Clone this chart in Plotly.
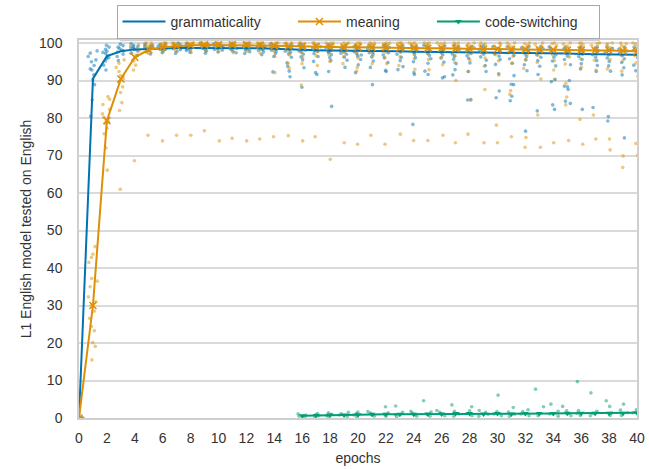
import plotly.graph_objects as go

# ---------------- data ----------------
epochs = list(range(0, 41))
gram_mean = [0, 90.5, 96.5, 97.8, 98.3, 98.5, 98.6, 98.7, 98.7, 98.7, 98.7, 98.7, 98.6, 98.6, 98.5,
             98.3, 98.2, 98.1, 98.0, 98.0, 97.9, 97.9, 97.8, 97.8, 97.7, 97.7, 97.6, 97.6, 97.5, 97.5,
             97.4, 97.4, 97.3, 97.3, 97.2, 97.2, 97.1, 97.1, 97.0, 97.0, 96.9]
meaning_mean = [0, 30.0, 79.3, 90.4, 96.2, 98.2, 98.9, 99.2, 99.4, 99.5, 99.5, 99.5, 99.5, 99.4, 99.3,
                99.2, 99.1, 99.0, 99.0, 98.9, 98.9, 98.8, 98.8, 98.7, 98.7, 98.6, 98.6, 98.5, 98.5, 98.4,
                98.4, 98.3, 98.3, 98.2, 98.2, 98.1, 98.1, 98.0, 98.0, 97.9, 97.8]
cs_epochs = list(range(16, 41))
cs_mean = [0.6, 0.7, 0.8, 0.8, 0.9, 1.0, 1.0, 1.0, 1.0, 1.1, 1.1, 1.2, 1.2, 1.1, 1.2, 1.1, 1.2,
           1.2, 1.2, 1.3, 1.3, 1.3, 1.3, 1.3, 1.4]

gram_runs = [
    [0, 0, 0],
    [80.5, 84.8, 88.9, 90.2, 91.5, 92.8, 94.0, 95.5, 96.4, 97.3, 97.9, 93.1, 95.0],
    [92.8, 94.1, 95.2, 95.9, 96.6, 97.2, 97.8, 98.3, 98.9, 99.4, 96.1, 97.5],
    [95.3, 96.4, 97.0, 97.6, 98.1, 98.5, 98.9, 99.3, 99.7, 97.9],
    [96.6, 97.3, 97.9, 98.3, 98.7, 99.0, 99.4, 99.8, 98.5, 99.1],
    [97.1, 97.7, 98.1, 98.5, 98.8, 99.1, 99.4, 99.7, 98.6, 99.2],
    [97.4, 97.9, 98.3, 98.6, 98.9, 99.2, 99.5, 99.8, 98.4, 99.0],
    [97.2, 97.8, 98.2, 98.7, 99.0, 99.3, 99.6, 99.9, 98.5, 98.9],
    [97.5, 98.0, 98.4, 98.7, 99.0, 99.3, 99.5, 99.8, 98.2, 99.1],
    [97.3, 97.9, 98.3, 98.8, 99.1, 99.4, 99.7, 99.9, 98.6, 99.0],
    [97.6, 98.1, 98.5, 98.8, 99.0, 99.3, 99.6, 99.8, 98.3, 99.2],
    [97.4, 97.8, 98.2, 98.6, 99.0, 99.2, 99.5, 99.9, 98.7, 99.1],
    [97.2, 97.7, 98.1, 98.5, 98.9, 99.2, 99.5, 99.8, 98.4, 98.8],
    [96.9, 97.6, 98.0, 98.4, 98.8, 99.1, 99.4, 99.7, 98.2, 99.0],
    [92.3, 96.4, 97.2, 97.8, 98.3, 98.7, 99.0, 99.4, 99.7, 98.1, 98.9],
    [91.0, 92.5, 93.8, 94.7, 96.2, 97.1, 97.8, 98.3, 98.7, 99.1, 99.5, 97.5],
    [88.2, 93.4, 95.5, 96.3, 97.0, 97.6, 98.1, 98.5, 98.9, 99.3, 99.6, 97.9],
    [91.6, 92.1, 95.1, 96.4, 97.2, 97.8, 98.2, 98.7, 99.0, 99.4, 98.0],
    [83.1, 92.4, 95.3, 96.1, 96.9, 97.5, 98.0, 98.4, 98.8, 99.2, 99.6, 97.7],
    [93.5, 95.4, 96.2, 97.0, 97.6, 98.1, 98.5, 98.9, 99.3, 97.3],
    [92.1, 94.2, 95.6, 96.5, 97.1, 97.7, 98.2, 98.6, 99.0, 99.4, 96.8],
    [88.9, 93.5, 95.2, 96.3, 97.0, 97.6, 98.1, 98.5, 98.9, 99.3, 97.4],
    [92.7, 92.4, 94.8, 96.0, 96.8, 97.4, 97.9, 98.4, 98.8, 99.2, 99.5],
    [92.9, 93.7, 95.3, 96.2, 97.0, 97.6, 98.1, 98.5, 98.9, 99.3],
    [78.3, 91.6, 92.1, 95.0, 96.1, 96.9, 97.5, 98.0, 98.4, 98.8, 99.2],
    [91.6, 92.5, 94.6, 95.8, 96.7, 97.3, 97.8, 98.3, 98.7, 99.1, 99.4],
    [90.7, 91.0, 94.9, 96.0, 96.8, 97.4, 97.9, 98.3, 98.8, 99.2],
    [91.5, 92.9, 94.5, 95.7, 96.5, 97.1, 97.7, 98.2, 98.6, 99.0, 99.4],
    [84.8, 84.9, 92.4, 94.7, 95.9, 96.6, 97.2, 97.8, 98.3, 98.7, 99.1],
    [92.4, 94.0, 95.4, 96.3, 97.0, 97.5, 98.0, 98.5, 98.9, 99.3],
    [85.4, 87.2, 91.8, 94.3, 95.6, 96.5, 97.1, 97.7, 98.2, 98.6, 99.0],
    [84.6, 85.8, 88.9, 89.0, 91.3, 94.6, 95.8, 96.7, 97.4, 98.0, 98.5, 99.0],
    [76.5, 92.6, 94.2, 95.5, 96.4, 97.1, 97.7, 98.2, 98.7, 99.1],
    [81.9, 91.6, 93.8, 95.3, 96.2, 96.9, 97.5, 98.1, 98.6, 99.0],
    [82.3, 83.5, 89.7, 90.3, 93.9, 95.2, 96.2, 96.9, 97.5, 98.1, 98.6, 99.0],
    [83.9, 84.5, 87.6, 88.3, 88.5, 90.0, 94.2, 95.6, 96.5, 97.2, 97.8, 98.4, 98.9],
    [82.3, 93.1, 94.5, 95.6, 96.4, 97.0, 97.6, 98.1, 98.6, 99.0],
    [82.8, 92.4, 94.0, 95.3, 96.2, 96.9, 97.5, 98.0, 98.5, 99.0],
    [79.2, 80.4, 92.5, 93.9, 95.1, 96.0, 96.8, 97.4, 98.0, 98.5, 98.9],
    [74.7, 91.5, 93.4, 94.8, 95.8, 96.6, 97.3, 97.9, 98.4, 98.9],
    [92.6, 94.1, 95.2, 96.1, 96.8, 97.4, 98.0, 98.5, 98.9],
]

meaning_runs = [
    [0, 0, 0, 0],
    [15.5, 19.1, 20.1, 23.3, 24.4, 26.6, 28.5, 30.0, 31.0, 32.3, 35.0, 36.5, 37.2, 41.5, 42.8, 43.7, 45.7],
    [66.1, 72.0, 75.8, 77.3, 78.5, 79.4, 80.2, 81.1, 82.3, 83.6, 85.0, 85.7, 79.0],
    [61.0, 82.0, 84.1, 86.8, 88.3, 89.6, 90.5, 91.3, 92.4, 93.5, 94.6, 95.5],
    [68.6, 92.8, 94.1, 95.2, 96.0, 96.7, 97.3, 97.9, 98.6, 99.2, 99.6],
    [75.4, 97.2, 98.1, 98.7, 99.1, 99.5, 99.8, 100, 100, 99.3, 98.5],
    [73.9, 97.6, 98.4, 98.9, 99.3, 99.6, 99.8, 100, 100, 99.4],
    [75.4, 97.8, 98.6, 99.0, 99.4, 99.7, 99.9, 100, 100, 99.2],
    [75.4, 97.5, 98.3, 98.9, 99.3, 99.6, 99.9, 100, 100, 99.5],
    [76.6, 97.9, 98.7, 99.1, 99.5, 99.8, 100, 100, 99.4, 99.0],
    [73.9, 97.7, 98.5, 99.0, 99.4, 99.7, 99.9, 100, 100, 99.2],
    [74.6, 97.4, 98.3, 98.9, 99.3, 99.6, 99.8, 100, 100, 99.5],
    [73.9, 97.8, 98.6, 99.1, 99.5, 99.7, 99.9, 100, 100, 99.3],
    [74.4, 97.3, 98.4, 98.9, 99.3, 99.6, 99.9, 100, 100, 99.0],
    [75.0, 92.1, 96.5, 97.8, 98.6, 99.1, 99.5, 99.8, 100, 100, 99.3],
    [75.3, 93.3, 94.6, 96.8, 97.9, 98.6, 99.1, 99.5, 99.8, 100, 100],
    [73.9, 88.8, 94.5, 96.2, 97.5, 98.3, 98.9, 99.4, 99.8, 100, 100],
    [75.0, 94.0, 96.6, 97.7, 98.5, 99.0, 99.5, 99.8, 100, 100],
    [69.0, 95.1, 96.9, 97.9, 98.6, 99.1, 99.5, 99.9, 100, 100],
    [73.4, 94.5, 96.4, 97.6, 98.4, 99.0, 99.4, 99.8, 100, 100],
    [73.0, 92.5, 93.5, 96.0, 97.3, 98.2, 98.8, 99.3, 99.7, 100, 100],
    [75.4, 94.5, 96.5, 97.7, 98.5, 99.1, 99.5, 99.8, 100, 100],
    [73.0, 94.5, 96.2, 97.5, 98.4, 99.0, 99.5, 99.8, 100, 100],
    [75.7, 94.0, 96.3, 97.6, 98.5, 99.1, 99.5, 99.9, 100, 100],
    [74.0, 93.0, 95.8, 97.3, 98.2, 98.9, 99.4, 99.8, 100, 100],
    [74.0, 92.9, 95.6, 97.2, 98.2, 98.9, 99.4, 99.8, 100, 100],
    [75.4, 94.2, 96.1, 97.4, 98.3, 98.9, 99.4, 99.8, 100, 100],
    [73.4, 90.0, 94.8, 96.6, 97.8, 98.6, 99.2, 99.6, 100, 100],
    [75.7, 84.8, 92.4, 95.5, 97.1, 98.1, 98.8, 99.4, 99.8, 100],
    [73.4, 87.6, 93.8, 96.0, 97.4, 98.3, 98.9, 99.4, 99.8, 100],
    [73.4, 78.1, 91.5, 95.2, 96.9, 97.9, 98.6, 99.2, 99.7, 100],
    [75.0, 86.3, 87.3, 94.6, 96.5, 97.6, 98.4, 99.0, 99.5, 100, 100],
    [72.2, 74.8, 93.2, 95.6, 97.0, 98.0, 98.7, 99.3, 99.8, 100],
    [72.2, 80.8, 90.4, 94.8, 96.7, 97.8, 98.6, 99.2, 99.7, 100],
    [73.4, 90.2, 92.8, 95.3, 96.9, 97.9, 98.7, 99.3, 99.8, 100],
    [74.0, 83.5, 85.6, 89.3, 94.4, 96.3, 97.6, 98.5, 99.2, 99.7, 100],
    [73.0, 79.6, 93.5, 95.8, 97.2, 98.2, 98.9, 99.5, 99.9, 100],
    [74.4, 80.8, 92.8, 95.4, 97.0, 98.0, 98.8, 99.4, 99.8, 100],
    [71.5, 74.4, 93.1, 95.6, 97.1, 98.1, 98.8, 99.4, 99.8, 100],
    [66.8, 69.9, 92.5, 95.2, 96.8, 97.9, 98.7, 99.3, 99.8, 100],
    [70.1, 73.2, 91.1, 94.7, 96.6, 97.7, 98.5, 99.2, 99.7, 100],
]

cs_runs = [
    [0.2, 0.5, 0.8, 1.1], [0.3, 0.6, 0.9, 1.2], [0.3, 0.7, 1.0, 1.4], [0.4, 0.8, 1.1, 1.5],
    [0.4, 0.8, 1.2, 1.6], [0.5, 0.9, 1.3, 1.7], [0.5, 1.0, 1.4, 3.0], [0.4, 0.9, 1.5, 3.2],
    [0.5, 1.0, 1.3, 1.8], [0.5, 1.0, 1.6, 4.6], [0.6, 1.1, 1.5, 2.0], [0.5, 1.1, 1.8, 3.5],
    [0.6, 1.2, 1.9, 3.0], [0.5, 1.0, 1.5, 2.0], [0.6, 1.1, 1.7, 6.1], [0.5, 1.0, 1.6, 2.8],
    [0.6, 1.1, 1.7, 2.2], [0.6, 1.2, 3.0, 7.7], [0.5, 1.1, 1.8, 3.7], [0.6, 1.2, 1.9, 3.1],
    [0.7, 1.3, 2.0, 9.7], [0.6, 1.2, 1.8, 6.7], [0.7, 1.3, 3.1, 4.6], [0.7, 1.4, 2.1, 3.7],
    [0.8, 1.4, 2.2, 4.6],
]

series_names = ['grammaticality', 'meaning', 'code-switching']
x_ticks = list(range(0, 41, 2))
y_ticks = list(range(0, 101, 10))

# ---------------- styling ----------------
BLUE = '#0173b2'
ORANGE = '#de8f05'
GREEN = '#029e73'
FONT = 'Liberation Sans, Arial, sans-serif'
TXT = '#333333'
NB = '\u00a0'


def flatten(eps, runs):
    xs, ys = [], []
    for e, vals in zip(eps, runs):
        xs += [e] * len(vals)
        ys += vals
    return xs, ys


fig = go.Figure()
for eps, runs, col in [(epochs, gram_runs, BLUE), (epochs, meaning_runs, ORANGE),
                       (cs_epochs, cs_runs, GREEN)]:
    xs, ys = flatten(eps, runs)
    fig.add_trace(go.Box(
        x=xs, y=ys, boxpoints='all', jitter=1, pointpos=0, width=0.7,
        fillcolor='rgba(0,0,0,0)', line=dict(width=0, color=col), whiskerwidth=0,
        marker=dict(color=col, size=3.6, opacity=0.5), showlegend=False, hoverinfo='x+y'))

fig.add_trace(go.Scatter(x=epochs, y=gram_mean, mode='lines', name=series_names[0] + NB * 7,
                         line=dict(color=BLUE, width=2)))
fig.add_trace(go.Scatter(x=epochs, y=meaning_mean, mode='lines+markers',
                         name=series_names[1] + NB * 7,
                         line=dict(color=ORANGE, width=2),
                         marker=dict(symbol='x-thin', size=7, color=ORANGE,
                                     line=dict(width=1.5, color=ORANGE))))
fig.add_trace(go.Scatter(x=cs_epochs, y=cs_mean, mode='lines+markers',
                         name=series_names[2] + NB * 4,
                         line=dict(color=GREEN, width=2),
                         marker=dict(symbol='triangle-down', size=6, color=GREEN)))

fig.update_layout(
    width=649, height=469,
    margin=dict(l=79, r=12, t=40, b=51, autoexpand=False),
    paper_bgcolor='white', plot_bgcolor='white',
    font=dict(family=FONT, size=14, color=TXT),
    boxmode='overlay',
    showlegend=True,
    legend=dict(orientation='h', x=0.5, xanchor='center', y=1.003, yanchor='bottom',
                itemwidth=43,
                bgcolor='white', bordercolor='#a8a8a8', borderwidth=1,
                font=dict(family=FONT, size=14, color=TXT)),
    shapes=[dict(type='rect', xref='paper', yref='paper', x0=0.0735, x1=0.9337,
                 y0=0.997, y1=1.085, line=dict(width=0), fillcolor='#d2d2d2', layer='below')],
)
fig.update_xaxes(range=[0, 40], tickvals=x_ticks, ticktext=[str(v) for v in x_ticks],
                 showgrid=False, zeroline=False, showline=True, linecolor='#cfcfcf',
                 linewidth=1.5, mirror=True, ticks='', ticklabelstandoff=6,
                 title=dict(text='epochs', font=dict(size=14, color=TXT), standoff=9))
fig.update_yaxes(range=[0, 100.8], tickvals=y_ticks, ticktext=[str(v) for v in y_ticks],
                 showgrid=True, gridcolor='#dadada', gridwidth=1.5, zeroline=False,
                 showline=True, linecolor='#cfcfcf', linewidth=1.5, mirror=True, ticks='',
                 ticklabelstandoff=12,
                 title=dict(text='L1 English model tested on English',
                            font=dict(size=14, color=TXT), standoff=4))

fig.write_html('out.html', config={'displayModeBar': False},
               post_script="document.body.style.margin='0';")
